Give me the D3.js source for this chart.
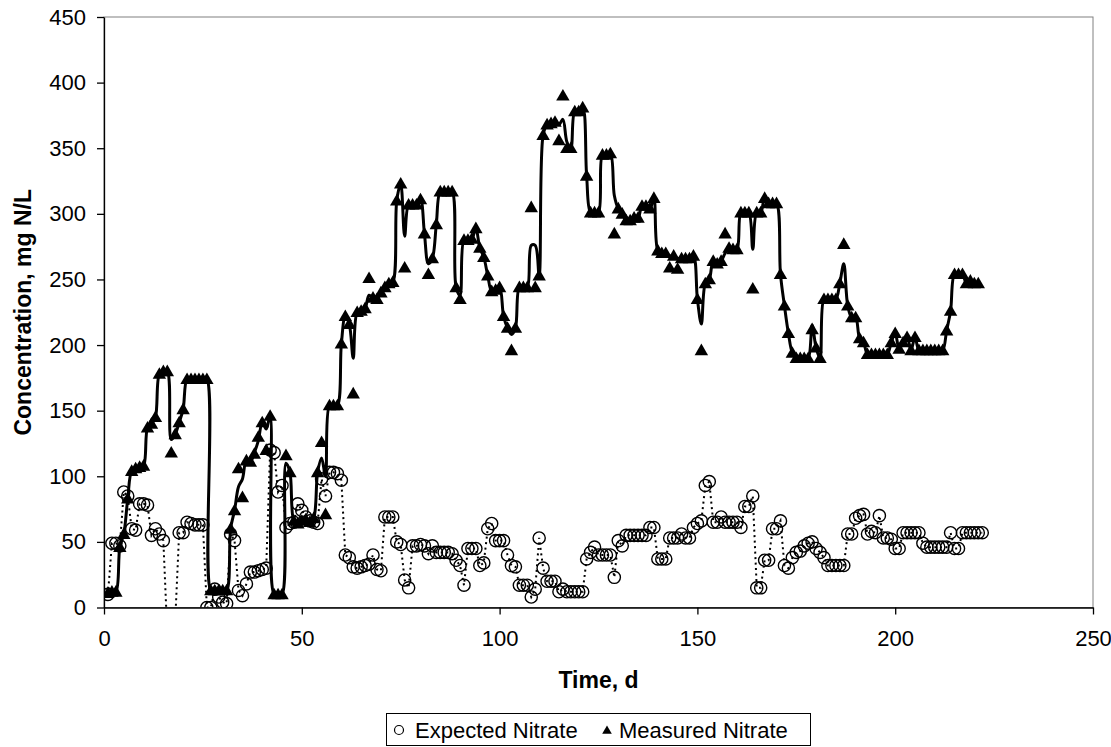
<!DOCTYPE html>
<html lang="en">
<head>
<meta charset="utf-8">
<title>Expected and measured nitrate</title>
<script src="https://cdn.jsdelivr.net/npm/d3@7/dist/d3.min.js"></script>
<style>
  body { margin: 0; background: #fff; }
  svg text { font-family: "Liberation Sans", Arial, sans-serif; fill: #000; }
</style>
</head>
<body>
<script>

// Expected nitrate, one value per day starting at day 1 (values below 0 fall off the plot)
var expected = [
  10, 49, 49, 47, 88, 85, 60, 59, 79, 79,
  78, 55, 60, 56, 51, -20, -40, -10, 57, 57,
  65, 64, 63, 63, 63, 0, 0, 14, 8, 4,
  3, 56, 51, 13, 9, 18, 27, 27, 28, 29,
  30, 120, 118, 88, 93, 61, 64, 65, 79, 74,
  69, 66, 65, 64, 98, 85, 103, 103, 102, 97,
  40, 38, 31, 30, 31, 32, 33, 40, 29, 28,
  69, 69, 69, 50, 48, 21, 15, 47, 47, 48,
  47, 41, 47, 42, 42, 42, 42, 41, 36, 32,
  17, 45, 45, 45, 32, 34, 60, 64, 51, 51,
  51, 40, 32, 31, 17, 17, 17, 8, 14, 53,
  30, 20, 20, 20, 12, 14, 12, 12, 12, 12,
  12, 37, 42, 46, 40, 40, 40, 40, 23, 51,
  47, 55, 55, 55, 55, 55, 55, 61, 61, 37,
  37, 37, 53, 53, 53, 56, 53, 53, 61, 64,
  66, 93, 96, 65, 65, 69, 65, 65, 65, 65,
  61, 77, 77, 85, 15, 15, 36, 36, 60, 60,
  66, 32, 30, 38, 42, 43, 47, 49, 50, 45,
  42, 38, 32, 32, 32, 32, 32, 56, 56, 68,
  70, 71, 56, 58, 57, 70, 53, 53, 52, 45,
  45, 57, 57, 57, 57, 57, 49, 46, 46, 46,
  46, 46, 46, 57, 45, 45, 57, 57, 57, 57,
  57, 57
];

// Measured nitrate markers, one per day starting at day 1
var measured = [
  11, 12, 12, 46, 56, 83, 104, 106, 107, 108,
  137, 140, 145, 178, 180, 180, 118, 132, 141, 151,
  174, 174, 174, 174, 174, 174, 13, 13, 13, 13,
  13, 60, 74, 106, 84, 112, 111, 117, 130, 141,
  120, 146, 10, 10, 10, 116, 103, 66, 64, 66,
  67, 65, 68, 103, 126, 71, 154, 154, 154, 201,
  222, 216, 163, 225, 226, 228, 251, 236, 235, 240,
  244, 247, 248, 310, 323, 259, 307, 307, 307, 311,
  285, 254, 266, 292, 317, 317, 317, 317, 244, 235,
  280, 280, 281, 289, 274, 267, 253, 241, 242, 244,
  222, 213, 196, 213, 244, 244, 244, 305, 244, 253,
  360, 368, 369, 370, 356, 390, 350, 350, 378, 378,
  381, 329, 301, 301, 301, 345, 345, 346, 285, 304,
  300, 295, 295, 297, 297, 306, 306, 304, 312, 272,
  270, 270, 259, 268, 258, 266, 266, 266, 268, 235,
  196, 247, 250, 264, 262, 264, 285, 274, 273, 273,
  301, 301, 301, 243, 301, 301, 312, 308, 308, 308,
  254, 230, 209, 194, 190, 190, 190, 190, 212, 198,
  190, 235, 235, 235, 235, 247, 277, 230, 221, 221,
  205, 202, 193, 193, 193, 193, 193, 193, 202, 209,
  197, 202, 206, 196, 206, 196, 196, 196, 196, 196,
  196, 196, 211, 226, 254, 254, 254, 247, 249, 247,
  247
];

// Smoothed measured line, same days (differs where a marker sits off the line)
var measuredLine = [
  11, 12, 12, 46, 56, 83, 104, 106, 107, 108,
  137, 140, 145, 178, 180, 180, 128, 132, 141, 151,
  174, 174, 174, 174, 174, 174, 13, 13, 13, 13,
  13, 60, 74, 92, 98, 112, 111, 118, 127, 141,
  136, 146, 10, 10, 10, 110, 103, 66, 64, 66,
  67, 65, 68, 103, 114, 100, 154, 154, 154, 201,
  222, 216, 190, 225, 226, 228, 238, 236, 235, 240,
  244, 247, 248, 310, 323, 283, 307, 307, 307, 311,
  285, 262, 266, 292, 317, 317, 317, 317, 244, 238,
  280, 280, 281, 289, 274, 267, 253, 241, 242, 244,
  222, 213, 208, 213, 244, 244, 244, 276, 276, 253,
  360, 368, 369, 370, 368, 372, 355, 350, 378, 378,
  381, 329, 301, 301, 301, 345, 345, 346, 314, 304,
  300, 295, 295, 297, 297, 306, 306, 304, 312, 272,
  270, 270, 268, 268, 266, 266, 266, 266, 268, 235,
  216, 247, 250, 264, 262, 264, 270, 274, 273, 273,
  301, 301, 301, 273, 301, 301, 312, 308, 308, 308,
  254, 230, 209, 194, 190, 190, 190, 190, 215, 198,
  190, 235, 235, 235, 235, 247, 262, 230, 221, 221,
  205, 202, 193, 193, 193, 193, 193, 193, 202, 209,
  197, 202, 206, 196, 206, 196, 196, 196, 196, 196,
  196, 196, 211, 226, 254, 254, 254, 247, 249, 247,
  247
];

var xTicks = [0, 50, 100, 150, 200, 250];
var yTicks = [0, 50, 100, 150, 200, 250, 300, 350, 400, 450];
var seriesNames = ["Expected Nitrate", "Measured Nitrate"];

//Width, height and plot box
var w = 1111;
var h = 747;
var pl = 104, pr = 1093, pt = 17, pb = 607.5;

var svg = d3.select("body")
  .append("svg")
  .attr("width", w)
  .attr("height", h);

var xScale = d3.scaleLinear().domain([0, 250]).range([pl, pr]);
var yScale = d3.scaleLinear().domain([0, 450]).range([pb, pt]);

var expData = expected.map(function(v, i) { return { d: i + 1, v: v }; });
var measData = measured.map(function(v, i) { return { d: i + 1, v: v, l: measuredLine[i] }; });

svg.append("clipPath").attr("id", "plot")
  .append("rect")
  .attr("x", pl).attr("y", pt)
  .attr("width", pr - pl).attr("height", pb - pt);

// plot area frame
svg.append("rect")
  .attr("x", pl).attr("y", pt)
  .attr("width", pr - pl).attr("height", pb - pt)
  .attr("fill", "none")
  .attr("stroke", "#808080")
  .attr("stroke-width", 1);

// axes
var yAxis = d3.axisLeft(yScale).tickValues(yTicks).tickSize(7).tickSizeOuter(0).tickPadding(11);
var xAxis = d3.axisBottom(xScale).tickValues(xTicks).tickSize(7).tickSizeOuter(0).tickPadding(16);

var gy = svg.append("g").attr("transform", "translate(" + pl + ",0)").call(yAxis);
var gx = svg.append("g").attr("transform", "translate(0," + pb + ")").call(xAxis);

[gx, gy].forEach(function(g) {
  g.selectAll("path, line").attr("stroke", "#000").attr("stroke-width", 1.3);
  g.selectAll("text")
    .attr("font-size", "22px")
    .attr("font-family", "Liberation Sans, Arial, sans-serif")
    .attr("fill", "#000");
});

var data = svg.append("g").attr("clip-path", "url(#plot)");

// expected: dotted straight line + open circles
var expLine = d3.line()
  .x(function(d) { return xScale(d.d); })
  .y(function(d) { return yScale(d.v); });

data.append("path")
  .datum(expData)
  .attr("d", expLine)
  .attr("fill", "none")
  .attr("stroke", "#000")
  .attr("stroke-width", 2)
  .attr("stroke-dasharray", "2,3.5");

data.selectAll("circle.exp")
  .data(expData)
  .enter()
  .append("circle")
  .attr("class", "exp")
  .attr("cx", function(d) { return xScale(d.d); })
  .attr("cy", function(d) { return yScale(d.v); })
  .attr("r", 6.1)
  .attr("fill", "none")
  .attr("stroke", "#000")
  .attr("stroke-width", 1.4);

// measured: smoothed heavy line + filled triangles
var measLine = d3.line()
  .x(function(d) { return xScale(d.d); })
  .y(function(d) { return yScale(d.l); })
  .curve(d3.curveCatmullRom.alpha(0.5));

data.append("path")
  .datum(measData)
  .attr("d", measLine)
  .attr("fill", "none")
  .attr("stroke", "#000")
  .attr("stroke-width", 3)
  .attr("stroke-linejoin", "round");

var tri = d3.symbol().type(d3.symbolTriangle).size(78);

data.selectAll("path.meas")
  .data(measData)
  .enter()
  .append("path")
  .attr("class", "meas")
  .attr("d", tri)
  .attr("transform", function(d) {
    return "translate(" + xScale(d.d) + "," + (yScale(d.v) + 1) + ")";
  })
  .attr("fill", "#000");

// axis titles
svg.append("text")
  .attr("x", (pl + pr) / 2)
  .attr("y", 688)
  .attr("text-anchor", "middle")
  .attr("font-size", "23px")
  .attr("font-weight", "bold")
  .text("Time, d");

svg.append("text")
  .attr("transform", "translate(31," + ((pt + pb) / 2) + ") rotate(-90)")
  .attr("text-anchor", "middle")
  .attr("font-size", "23px")
  .attr("font-weight", "bold")
  .text("Concentration, mg N/L");

// legend
var lg = svg.append("g");
lg.append("rect")
  .attr("x", 386.5).attr("y", 713.5)
  .attr("width", 424).attr("height", 32)
  .attr("fill", "#fff")
  .attr("stroke", "#000")
  .attr("stroke-width", 1);

lg.append("circle")
  .attr("cx", 399).attr("cy", 730)
  .attr("r", 4.5)
  .attr("fill", "none")
  .attr("stroke", "#000")
  .attr("stroke-width", 1.2);

lg.append("text")
  .attr("x", 415).attr("y", 738)
  .attr("font-size", "22px")
  .text(seriesNames[0]);

lg.append("path")
  .attr("d", d3.symbol().type(d3.symbolTriangle).size(40))
  .attr("transform", "translate(607,731)")
  .attr("fill", "#000");

lg.append("text")
  .attr("x", 619).attr("y", 738)
  .attr("font-size", "22px")
  .text(seriesNames[1]);

</script>
</body>
</html>
